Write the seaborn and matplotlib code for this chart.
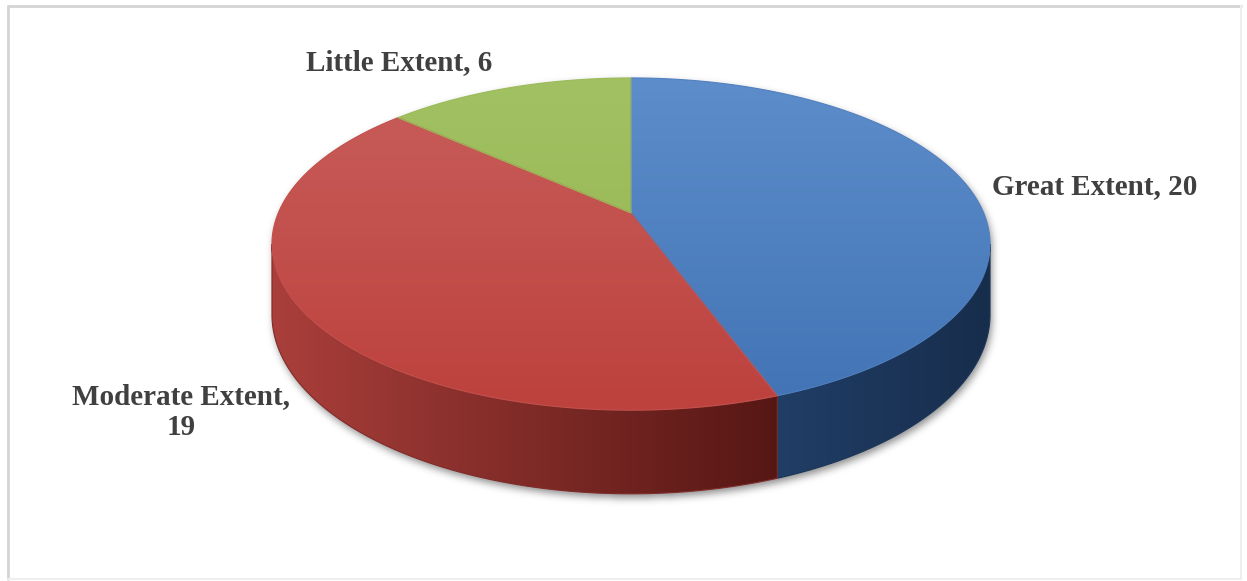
import numpy as np
import matplotlib
matplotlib.use("Agg")
import matplotlib.pyplot as plt
from matplotlib.path import Path
from matplotlib.patches import PathPatch
from matplotlib.lines import Line2D
from matplotlib.colors import to_rgb
import seaborn as sns

# ---- data ----
categories = ["Great Extent", "Moderate Extent", "Little Extent"]
values = [20, 19, 6]
label_texts = ["Great Extent, 20", "Moderate Extent,\n19", "Little Extent, 6"]
label_pos = [(1095, 187), (181, 412), (399, 63)]

# ---- colours (top face light/dark, side wall left/right) ----
top_light = ["#5d8dca", "#c85e5b", "#a2c163"]
top_dark = ["#4273b5", "#bd413d", "#93b44f"]
side_left = ["#213e66", "#aa3f3b", "#7f9a45"]
side_right = ["#172d4c", "#561714", "#5f7532"]

# ---- geometry of the tilted disc (pixel units) ----
W, H = 1247, 581
CX, CY = 631.0, 213.0     # pie apex
RX, RY = 352.7, 160.3     # rim radii
K = 0.187                 # perspective strength
DEPTH = 68.0              # wall height

sns.set_theme(style="white")
plt.rcParams["font.family"] = ["Liberation Serif", "DejaVu Serif"]

fig = plt.figure(figsize=(W / 100, H / 100), dpi=100)
fig.patch.set_facecolor("white")
ax = fig.add_axes([0, 0, 1, 1])


def rim(theta_deg, drop=0.0):
    t = np.radians(theta_deg)
    s = 1.0 / (1.0 + K * np.sin(t))
    x = CX + RX * np.cos(t) * s
    y = CY - RY * np.sin(t) * s + drop * DEPTH * s
    return x, y


def gradient_fill(verts, c0, c1, direction, zorder, extent=None, edge=True):
    verts = np.asarray(verts)
    codes = [Path.MOVETO] + [Path.LINETO] * (len(verts) - 2) + [Path.CLOSEPOLY]
    path = Path(verts, codes)
    mid = tuple((np.array(to_rgb(c0)) + np.array(to_rgb(c1))) / 2)
    clip = PathPatch(path, facecolor="none", edgecolor="none", zorder=zorder)
    ax.add_patch(clip)
    if extent is None:
        x0, y0 = verts.min(0)
        x1, y1 = verts.max(0)
    else:
        x0, x1, y0, y1 = extent
    f = np.linspace(0, 1, 256)[:, None]
    cols = np.array(to_rgb(c0))[None, :] * (1 - f) + np.array(to_rgb(c1))[None, :] * f
    img = cols[None, :, :] if direction == "x" else cols[:, None, :]
    im = ax.imshow(img, extent=(x0, x1, y1, y0), origin="upper", aspect="auto",
                   interpolation="bilinear", zorder=zorder)
    im.set_clip_path(clip)
    if edge:
        ax.add_patch(PathPatch(path, facecolor="none", edgecolor=mid,
                               linewidth=0.8, zorder=zorder + 0.1))


total = float(sum(values))
bounds = 90.0 - 360.0 * np.concatenate([[0.0], np.cumsum(values)]) / total
t_star = np.degrees(np.arcsin(K))
front_lo, front_hi = -180.0 + t_star, -t_star

# ---- soft shadow under the disc ----
back = np.linspace(-t_star, 180 + t_star, 300)
front = np.linspace(-180 + t_star, -t_star, 300)
bx, by = rim(back)
fx, fy = rim(front, drop=1.0)
sil = np.column_stack([np.concatenate([bx, fx]), np.concatenate([by, fy])])
gx, gy = np.meshgrid(np.arange(W) + 0.5, np.arange(H) + 0.5)
mask = Path(sil + np.array([2.0, 4.0])).contains_points(
    np.column_stack([gx.ravel(), gy.ravel()])).reshape(H, W).astype(float)
sig = 4.0
kx = np.arange(-12, 13)
kern = np.exp(-kx ** 2 / (2 * sig ** 2))
kern /= kern.sum()
mask = np.apply_along_axis(lambda r: np.convolve(r, kern, mode="same"), 1, mask)
mask = np.apply_along_axis(lambda c: np.convolve(c, kern, mode="same"), 0, mask)
shadow = np.zeros((H, W, 4))
shadow[..., 3] = mask * 0.45
ax.imshow(shadow, extent=(0, W, H, 0), origin="upper", aspect="auto",
          interpolation="bilinear", zorder=1)

# ---- side walls (front half only) ----
for i in range(len(values)):
    start, end = bounds[i], bounds[i + 1]
    for shift in (-360.0, 0.0, 360.0):
        lo = max(end + shift, front_lo)
        hi = min(start + shift, front_hi)
        if hi <= lo:
            continue
        a = np.linspace(lo, hi, 200)
        tx, ty = rim(a)
        bx2, by2 = rim(a[::-1], drop=1.0)
        verts = np.column_stack([np.concatenate([tx, bx2, tx[:1]]),
                                 np.concatenate([ty, by2, ty[:1]])])
        gradient_fill(verts, side_left[i], side_right[i], "x", zorder=2)

# ---- top faces ----
top_extent = (CX - RX * 1.02, CX + RX * 1.02, CY - RY / (1 + K), CY + RY / (1 - K))
for i in range(len(values)):
    a = np.linspace(bounds[i], bounds[i + 1], 300)
    tx, ty = rim(a)
    verts = np.column_stack([np.concatenate([[CX], tx, [CX]]),
                             np.concatenate([[CY], ty, [CY]])])
    gradient_fill(verts, top_light[i], top_dark[i], "y", zorder=3, extent=top_extent)

# ---- data labels ----
for text, (lx, ly) in zip(label_texts, label_pos):
    ax.text(lx, ly, text, ha="center", va="center", fontsize=21,
            fontweight="bold", color="#404040", linespacing=1.2, zorder=5)

# ---- chart frame ----
ax.add_line(Line2D([8, 1241], [6, 6], color="#d4d4d4", lw=2.0, zorder=4))
ax.add_line(Line2D([8, 8], [6, 579], color="#d4d4d4", lw=2.0, zorder=4))
ax.add_line(Line2D([1241, 1241], [6, 579], color="#eeeeee", lw=1.5, zorder=4))
ax.add_line(Line2D([8, 1241], [579, 579], color="#eeeeee", lw=1.5, zorder=4))

ax.set_xlim(0, W)
ax.set_ylim(H, 0)
ax.axis("off")
fig.savefig("out.png", dpi=100, facecolor="white")
